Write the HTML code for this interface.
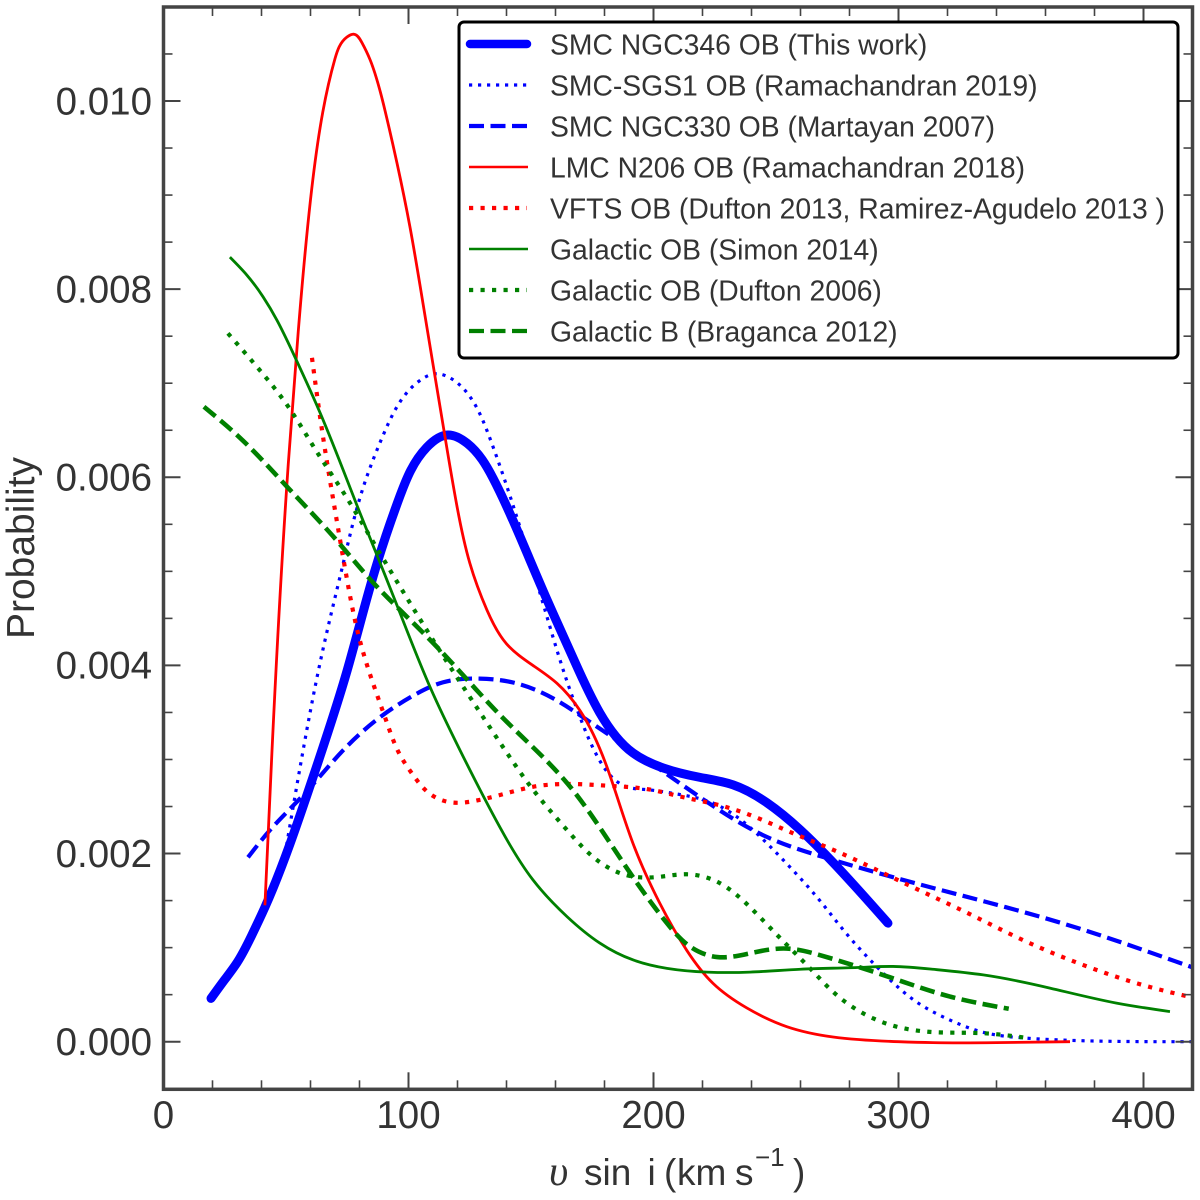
<!DOCTYPE html>
<html><head><meta charset="utf-8"><title>Rotation velocity distributions</title>
<style>
html,body{margin:0;padding:0;background:#fff}
svg{display:block}
text{font-family:"Liberation Sans",sans-serif;fill:#333}
</style></head>
<body>
<svg id="chart" xmlns="http://www.w3.org/2000/svg" width="1200" height="1200" viewBox="0 0 1200 1200">
<rect x="0" y="0" width="1200" height="1200" fill="#fff"/>
<defs><clipPath id="plot-clip"><rect x="163.5" y="7" width="1029" height="1082.3"/></clipPath></defs>
<g id="curves" clip-path="url(#plot-clip)"></g>
<g id="ticks"></g>
<rect x="163.5" y="7" width="1029" height="1082.3" fill="none" stroke="#444" stroke-width="3.5"/>
<g id="tick-labels" font-size="38.5"></g>
<text transform="translate(34 548) rotate(-90)" text-anchor="middle" font-size="39">Probability</text>
<text y="1185" font-size="37"><tspan x="549" font-size="42" style="font-family:'Liberation Serif','DejaVu Serif',serif;font-style:italic">υ</tspan><tspan x="584">sin</tspan><tspan x="647.5">i</tspan><tspan x="664">(</tspan><tspan x="677">km</tspan><tspan x="735">s</tspan><tspan x="755" y="1166" font-size="26">−1</tspan><tspan x="793" y="1185">)</tspan></text>
<g>
<rect x="459" y="22" width="719" height="336" rx="5" ry="5" fill="#fff" stroke="#000" stroke-width="3"/>
<line x1="470" y1="44" x2="527" y2="44" stroke="#0000ff" stroke-width="8.5" stroke-linecap="round"/>
<line x1="469" y1="85" x2="527" y2="85" stroke="#0000ff" stroke-width="3.2" stroke-dasharray="3.2 5.8"/>
<line x1="469" y1="126" x2="527" y2="126" stroke="#0000ff" stroke-width="4.2" stroke-dasharray="15 6.5"/>
<line x1="469" y1="167" x2="528" y2="167" stroke="#ff0000" stroke-width="2.6"/>
<line x1="469" y1="208" x2="527" y2="208" stroke="#ff0000" stroke-width="4.2" stroke-dasharray="4.2 7.3"/>
<line x1="469" y1="249" x2="528" y2="249" stroke="#008000" stroke-width="2.6"/>
<line x1="469" y1="290" x2="527" y2="290" stroke="#008000" stroke-width="4.2" stroke-dasharray="4.2 7.3"/>
<line x1="469" y1="331" x2="527" y2="331" stroke="#008000" stroke-width="4.2" stroke-dasharray="15 6.5"/>
<g font-size="28.3">
<text x="550" y="54.5">SMC NGC346 OB (This work)</text>
<text x="550" y="95.5">SMC-SGS1 OB (Ramachandran 2019)</text>
<text x="550" y="136.5">SMC NGC330 OB (Martayan 2007)</text>
<text x="550" y="177.5">LMC N206 OB (Ramachandran 2018)</text>
<text x="550" y="218.5">VFTS OB (Dufton 2013, Ramirez-Agudelo 2013 )</text>
<text x="550" y="259.5">Galactic OB (Simon 2014)</text>
<text x="550" y="300.5">Galactic OB (Dufton 2006)</text>
<text x="550" y="341.5">Galactic B (Braganca 2012)</text>
</g>
</g>
</svg>
<script>
var xMajorTicks = [0, 100, 200, 300, 400];
var xTickLabels = ['0', '100', '200', '300', '400'];
var xMinorTicks = [20, 40, 60, 80, 120, 140, 160, 180, 220, 240, 260, 280, 320, 340, 360, 380, 420];
var yMajorTicks = [0, 0.002, 0.004, 0.006, 0.008, 0.01];
var yTickLabels = ['0.000', '0.002', '0.004', '0.006', '0.008', '0.010'];
var yMinorTicks = [0.0005, 0.001, 0.0015, 0.0025, 0.003, 0.0035, 0.0045, 0.005, 0.0055, 0.0065, 0.007, 0.0075, 0.0085, 0.009, 0.0095, 0.0105];

var ngc346X = [19.4, 25, 30, 36, 41.4, 51.6, 61, 75, 85.6, 96.5, 107.5, 116, 124, 134.5, 145.5, 156.5, 167, 178, 191.6, 204, 219, 232.5, 246.3, 260, 273.5, 295.7];
var ngc346Y = [0.00046, 0.00066, 0.00084, 0.00113, 0.00143, 0.0021, 0.00281, 0.00395, 0.00495, 0.0058, 0.00632, 0.00645, 0.00636, 0.00599, 0.00537, 0.0047, 0.00409, 0.0035, 0.00307, 0.00291, 0.00281, 0.00273, 0.00254, 0.00225, 0.0019, 0.00126];

var sgs1X = [49, 57, 65, 73.4, 81.6, 89.7, 96.5, 104.7, 111, 118, 125, 133, 145.5, 155.7, 164.7, 170, 178, 183.5, 189, 197, 208, 224, 240.6, 253, 266.6, 280, 293.7, 307.5, 321, 334.6, 351, 375.4, 420];
var sgs1Y = [0.0019, 0.0031, 0.00416, 0.00509, 0.0059, 0.00645, 0.0068, 0.00703, 0.0071, 0.00704, 0.00686, 0.00643, 0.00547, 0.00459, 0.00383, 0.00345, 0.00299, 0.0028, 0.00271, 0.00268, 0.00264, 0.00254, 0.00225, 0.00193, 0.00154, 0.00111, 0.00073, 0.00042, 0.00023, 0.0001, 0.00004, 0.00001, 0];

var ngc330X = [34.5, 43.5, 57, 73.4, 88.4, 102, 114, 129, 144, 159, 174, 182, 204, 227, 246, 271, 299, 348, 375.4, 402.6, 420];
var ngc330Y = [0.00196, 0.00225, 0.00262, 0.0031, 0.00345, 0.00368, 0.00382, 0.00386, 0.00381, 0.00365, 0.0034, 0.00326, 0.00287, 0.00246, 0.00218, 0.00195, 0.00174, 0.0014, 0.00119, 0.00095, 0.00079];

var n206X = [41.4, 44.3, 50.4, 55, 60, 65, 70, 74.9, 77.8, 81, 84.3, 90.4, 95.3, 100.6, 105.9, 114.9, 119.8, 125, 132, 140, 150.8, 160.6, 170, 181, 191.6, 202.6, 213.6, 224.3, 238, 254.4, 273.3, 300, 314, 340, 370];
var n206Y = [0.00145, 0.0031, 0.00594, 0.00755, 0.00895, 0.00988, 0.01045, 0.01068, 0.01071, 0.01062, 0.01044, 0.0099, 0.00934, 0.00866, 0.00785, 0.00643, 0.00569, 0.00509, 0.00459, 0.00423, 0.004, 0.00381, 0.00352, 0.00292, 0.00211, 0.00147, 0.00097, 0.00062, 0.00036, 0.00016, 0.00005, 0, -0.00001, -0.00001, 0];

var vftsX = [60.6, 65, 70, 75, 80, 85, 91.2, 96.5, 102, 108, 116, 121, 129, 137, 150.8, 164.7, 182, 198.6, 212, 226, 239.4, 255.7, 273.3, 302, 328, 352.5, 378, 400, 420];
var vftsY = [0.00727, 0.00645, 0.00565, 0.0049, 0.00428, 0.00385, 0.00339, 0.00305, 0.00283, 0.00265, 0.00255, 0.00254, 0.00257, 0.00262, 0.00271, 0.00274, 0.00272, 0.00268, 0.0026, 0.00252, 0.00241, 0.00223, 0.00204, 0.00169, 0.00137, 0.00106, 0.00079, 0.0006, 0.00047];

var simonX = [27.1, 34, 40.6, 46.3, 52.9, 64, 80.2, 88.4, 96.5, 108.8, 121, 137.3, 150.8, 164.7, 178, 191.6, 205.5, 221.8, 239.4, 260, 284.3, 297.8, 314, 334.6, 361.8, 389, 410.8];
var simonY = [0.00834, 0.00815, 0.00792, 0.00767, 0.00732, 0.00668, 0.00562, 0.00509, 0.00456, 0.00377, 0.0031, 0.00228, 0.00172, 0.00133, 0.00105, 0.00087, 0.00078, 0.00074, 0.00074, 0.00077, 0.00079, 0.0008, 0.00077, 0.00071, 0.00057, 0.00041, 0.00032];

var dufton2006X = [26.3, 38.6, 50.4, 62.6, 73.4, 87, 99.3, 110, 123.9, 139.4, 150.8, 164.7, 178, 189, 201.4, 213.6, 226, 235.3, 244.7, 254.4, 263.9, 273.3, 284.3, 297.8, 315.7, 334.6, 352.5];
var dufton2006Y = [0.00753, 0.00716, 0.00677, 0.00627, 0.00584, 0.00525, 0.00472, 0.00427, 0.00371, 0.0031, 0.00268, 0.00225, 0.00191, 0.00177, 0.00175, 0.00178, 0.0017, 0.00153, 0.00129, 0.00103, 0.00078, 0.00053, 0.00032, 0.00017, 0.0001, 0.00009, 0.00004];

var bragancaX = [16.5, 31.2, 50.4, 69.3, 85.6, 96.5, 110, 123.9, 138.6, 150.8, 164.7, 178, 191.6, 205.5, 215, 226, 239.4, 254.4, 268, 284.3, 299.3, 321, 345];
var bragancaY = [0.00675, 0.00642, 0.0059, 0.00537, 0.00488, 0.00459, 0.00424, 0.00385, 0.00344, 0.00313, 0.00275, 0.00228, 0.00175, 0.00126, 0.00101, 0.0009, 0.00094, 0.00099, 0.00092, 0.00079, 0.00066, 0.00048, 0.00035];

var SVG_NS = 'http://www.w3.org/2000/svg';
function sx(v) { return 163.5 + v * 2.45; }
function sy(v) { return 1041.7 - v * 94070; }

// natural cubic spline second derivatives for knots t, values v
function secondDerivs(t, v) {
  var n = t.length, m = new Array(n).fill(0), c = new Array(n).fill(0), d = new Array(n).fill(0);
  for (var i = 1; i < n - 1; i++) {
    var a = t[i] - t[i - 1], b = t[i + 1] - t[i];
    var r = 6 * ((v[i + 1] - v[i]) / b - (v[i] - v[i - 1]) / a);
    var den = 2 * (a + b) - a * c[i - 1];
    c[i] = b / den;
    d[i] = (r - a * d[i - 1]) / den;
  }
  for (var j = n - 2; j > 0; j--) m[j] = d[j] - c[j] * m[j + 1];
  return m;
}

function smoothPath(xs, ys) {
  var px = xs.map(sx), py = ys.map(sy), t = [0];
  for (var i = 1; i < px.length; i++) {
    t.push(t[i - 1] + Math.hypot(px[i] - px[i - 1], py[i] - py[i - 1]));
  }
  var mx = secondDerivs(t, px), my = secondDerivs(t, py);
  var d = 'M' + px[0].toFixed(2) + ' ' + py[0].toFixed(2);
  function ctrl(p, m, k, h) {
    var s = (p[k + 1] - p[k]) / h;
    return [p[k] + h / 3 * (s - h * (2 * m[k] + m[k + 1]) / 6),
            p[k + 1] - h / 3 * (s + h * (m[k] + 2 * m[k + 1]) / 6)];
  }
  for (var k = 0; k < px.length - 1; k++) {
    var h = t[k + 1] - t[k], cx = ctrl(px, mx, k, h), cy = ctrl(py, my, k, h);
    d += 'C' + cx[0].toFixed(2) + ' ' + cy[0].toFixed(2) + ' ' + cx[1].toFixed(2) + ' ' + cy[1].toFixed(2) + ' ' + px[k + 1].toFixed(2) + ' ' + py[k + 1].toFixed(2);
  }
  return d;
}

function addCurve(name, xs, ys, color, width, dash, cap) {
  var el = document.createElementNS(SVG_NS, 'path');
  
  
  el.setAttribute('d', smoothPath(xs, ys));
  el.setAttribute('fill', 'none');
  el.setAttribute('stroke', color);
  el.setAttribute('stroke-width', width);
  el.setAttribute('stroke-linejoin', 'round');
  if (dash) el.setAttribute('stroke-dasharray', dash);
  if (cap) el.setAttribute('stroke-linecap', cap);
  document.getElementById('curves').appendChild(el);
}

addCurve('curve-smc-ngc346', ngc346X, ngc346Y, '#0000ff', 9, '', 'round');
addCurve('curve-smc-sgs1', sgs1X, sgs1Y, '#0000ff', 3.2, '3.2 5.8');
addCurve('curve-smc-ngc330', ngc330X, ngc330Y, '#0000ff', 4.2, '15 6.5');
addCurve('curve-lmc-n206', n206X, n206Y, '#ff0000', 2.8);
addCurve('curve-vfts', vftsX, vftsY, '#ff0000', 4.2, '4.2 7.3');
addCurve('curve-galactic-simon', simonX, simonY, '#008000', 2.8);
addCurve('curve-galactic-dufton2006', dufton2006X, dufton2006Y, '#008000', 4.2, '4.2 7.3');
addCurve('curve-galactic-braganca', bragancaX, bragancaY, '#008000', 4.6, '15 6.5');

function addTick(name, x1, y1, x2, y2, w) {
  var el = document.createElementNS(SVG_NS, 'line');
  
  
  el.setAttribute('x1', x1);
  el.setAttribute('y1', y1);
  el.setAttribute('x2', x2);
  el.setAttribute('y2', y2);
  el.setAttribute('stroke', '#444');
  el.setAttribute('stroke-width', w);
  document.getElementById('ticks').appendChild(el);
}
function addXTicks(values, len, w, name) {
  values.forEach(function (v) {
    addTick(name + '-bottom', sx(v), 1089.3, sx(v), 1089.3 - len, w);
    addTick(name + '-top', sx(v), 7, sx(v), 7 + len, w);
  });
}
function addYTicks(values, len, w, name) {
  values.forEach(function (v) {
    addTick(name + '-left', 163.5, sy(v), 163.5 + len, sy(v), w);
    addTick(name + '-right', 1192.5, sy(v), 1192.5 - len, sy(v), w);
  });
}
addXTicks(xMajorTicks, 17, 2, 'x-major-tick');
addXTicks(xMinorTicks, 9, 1.6, 'x-minor-tick');
addYTicks(yMajorTicks, 17, 2, 'y-major-tick');
addYTicks(yMinorTicks, 9, 1.6, 'y-minor-tick');

function addLabel(name, text, x, y, anchor) {
  var el = document.createElementNS(SVG_NS, 'text');
  
  
  el.setAttribute('x', x);
  el.setAttribute('y', y);
  el.setAttribute('text-anchor', anchor);
  el.textContent = text;
  document.getElementById('tick-labels').appendChild(el);
}
xMajorTicks.forEach(function (v, i) {
  addLabel('x-tick-label', xTickLabels[i], sx(v), 1128, 'middle');
});
yMajorTicks.forEach(function (v, i) {
  addLabel('y-tick-label', yTickLabels[i], 152, sy(v) + 13.3, 'end');
});
</script>
</body></html>
